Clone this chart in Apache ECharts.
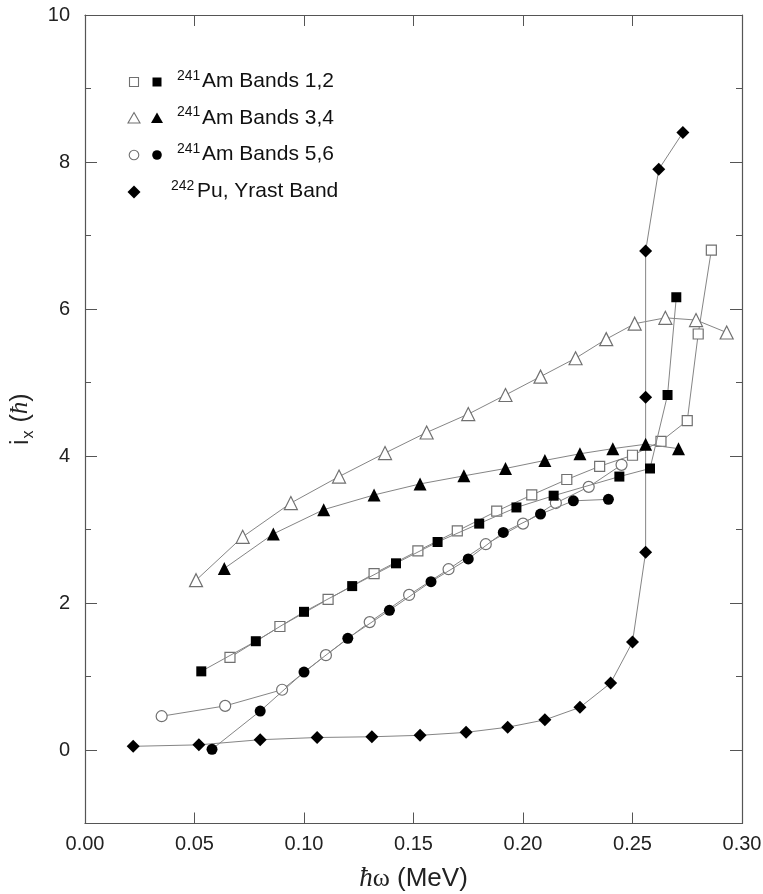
<!DOCTYPE html>
<html><head><meta charset="utf-8">
<script src="https://cdn.jsdelivr.net/npm/echarts@6/dist/echarts.min.js"></script>
<style>html,body{margin:0;padding:0;background:#fff}#c{width:763px;height:894px}</style>
</head><body><div id="c"></div>
<script>
// Data: [hbar*omega (MeV), i_x (hbar)]
const band1 = [[0.0662,1.26],[0.089,1.68],[0.111,2.05],[0.132,2.40],[0.152,2.71],[0.170,2.98],[0.188,3.25],[0.204,3.47],[0.220,3.68],[0.235,3.86],[0.250,4.01],[0.263,4.20],[0.275,4.48],[0.280,5.66],[0.286,6.80]];
const band2 = [[0.0531,1.07],[0.078,1.48],[0.100,1.88],[0.122,2.23],[0.142,2.54],[0.161,2.83],[0.180,3.08],[0.197,3.30],[0.214,3.46],[0.244,3.72],[0.258,3.83],[0.266,4.83],[0.270,6.16]];
const band3 = [[0.0507,2.31],[0.072,2.90],[0.094,3.36],[0.116,3.72],[0.137,4.04],[0.156,4.32],[0.175,4.57],[0.192,4.83],[0.208,5.08],[0.224,5.33],[0.238,5.59],[0.251,5.80],[0.265,5.88],[0.279,5.85],[0.293,5.68]];
const band4 = [[0.0636,2.47],[0.086,2.94],[0.109,3.27],[0.132,3.47],[0.153,3.62],[0.173,3.73],[0.192,3.83],[0.210,3.94],[0.226,4.03],[0.241,4.10],[0.256,4.16],[0.271,4.10]];
const band5 = [[0.035,0.46],[0.064,0.60],[0.090,0.82],[0.110,1.29],[0.130,1.74],[0.148,2.11],[0.166,2.46],[0.183,2.80],[0.200,3.08],[0.215,3.36],[0.230,3.58],[0.245,3.88]];
const band6 = [[0.058,0.01],[0.080,0.53],[0.100,1.06],[0.120,1.52],[0.139,1.90],[0.158,2.29],[0.175,2.60],[0.191,2.96],[0.208,3.21],[0.223,3.39],[0.239,3.41]];
const pu242 = [[0.022,0.05],[0.052,0.07],[0.080,0.14],[0.106,0.17],[0.131,0.18],[0.153,0.20],[0.174,0.24],[0.193,0.31],[0.210,0.41],[0.226,0.58],[0.240,0.91],[0.250,1.47],[0.256,2.69],[0.256,4.80],[0.256,6.79],[0.262,7.90],[0.273,8.40]];
const legendLabels = [["241","Am Bands 1,2"],["241","Am Bands 3,4"],["241","Am Bands 5,6"],["242","Pu, Yrast Band"]];
const yMajorTicks = [0,2,4,6,8,10];

const FONT = 'Liberation Sans, Arial, sans-serif';
const SERIF = 'Liberation Serif, DejaVu Serif, serif';
const LINE = '#858585';
const OPEN = '#707070';
const AXIS = '#555';

function ser(name, data, symbol, size, filled) {
  return {
    name, type: 'line', data, symbol, symbolSize: size, showSymbol: true,
    lineStyle: { color: LINE, width: 1 },
    itemStyle: filled ? { color: '#000', borderColor: '#000', borderWidth: 0 }
                      : { color: '#fff', borderColor: OPEN, borderWidth: 1.2 },
    z: filled ? 3 : 2, animation: false, clip: false
  };
}

const chart = echarts.init(document.getElementById('c'));
const lx1 = 134, lx2 = 157, ly = [82, 118.5, 155, 192];
const graphics = [];
graphics.push({type:'rect', shape:{x:lx1-4.5,y:ly[0]-4.5,width:9,height:9}, style:{fill:'#fff',stroke:OPEN,lineWidth:1.1}});
graphics.push({type:'rect', shape:{x:lx2-4.5,y:ly[0]-4.5,width:9,height:9}, style:{fill:'#000'}});
graphics.push({type:'polygon', shape:{points:[[lx1,ly[1]-6],[lx1+6,ly[1]+4.5],[lx1-6,ly[1]+4.5]]}, style:{fill:'#fff',stroke:OPEN,lineWidth:1.1}});
graphics.push({type:'polygon', shape:{points:[[lx2,ly[1]-6],[lx2+6,ly[1]+4.5],[lx2-6,ly[1]+4.5]]}, style:{fill:'#000'}});
graphics.push({type:'circle', shape:{cx:lx1,cy:ly[2],r:4.8}, style:{fill:'#fff',stroke:OPEN,lineWidth:1.1}});
graphics.push({type:'circle', shape:{cx:lx2,cy:ly[2],r:4.8}, style:{fill:'#000'}});
graphics.push({type:'polygon', shape:{points:[[lx1,ly[3]-6.5],[lx1+6.5,ly[3]],[lx1,ly[3]+6.5],[lx1-6.5,ly[3]]]}, style:{fill:'#000'}});
legendLabels.forEach((l, i) => {
  const supX = i < 3 ? 177 : 171;
  const mainX = i < 3 ? 202 : 197;
  graphics.push({type:'text', x: supX, y: ly[i]-13, style:{text:l[0], font:'14px '+FONT, fill:'#111', align:'left', verticalAlign:'top'}});
  graphics.push({type:'text', x: mainX, y: ly[i]-11, style:{text:l[1], font:'21px '+FONT, fill:'#111', align:'left', verticalAlign:'top'}});
});

const lineStyle = { show: true, onZero: false, lineStyle: { color: AXIS, width: 1.2 } };
const labelStyle = { fontSize: 20, fontFamily: FONT, color: '#222' };

chart.setOption({
  animation: false,
  backgroundColor: '#fff',
  grid: { left: 85, right: 21, top: 15, bottom: 70.5, containLabel: false, outerBoundsMode: 'none' },
  xAxis: [
    { type: 'value', min: 0, max: 0.3, interval: 0.05, position: 'bottom',
      axisLine: lineStyle, splitLine: { show: false },
      axisTick: { show: true, inside: true, length: 11, lineStyle: { color: AXIS, width: 1 } },
      axisLabel: Object.assign({ formatter: v => v.toFixed(2), margin: 11 }, labelStyle),
      name: '{h|ħ}{w|ω}{t| (MeV)}', nameLocation: 'middle', nameGap: 42,
      nameTextStyle: { rich: {
        h: { fontSize: 27, fontStyle: 'italic', fontFamily: SERIF, color: '#222' },
        w: { fontSize: 26, fontFamily: SERIF, color: '#222' },
        t: { fontSize: 26, fontFamily: FONT, color: '#222' } } }
    },
    { type: 'value', min: 0, max: 0.3, interval: 0.05, position: 'top',
      axisLine: lineStyle, splitLine: { show: false }, axisLabel: { show: false },
      axisTick: { show: true, inside: true, length: 11, lineStyle: { color: AXIS, width: 1 } } }
  ],
  yAxis: [
    { type: 'value', min: -1, max: 10, interval: 1, position: 'left',
      axisLine: lineStyle, splitLine: { show: false },
      axisTick: { show: true, inside: true, length: 6, lineStyle: { color: AXIS, width: 1 } },
      axisLabel: Object.assign({ formatter: v => (v >= 0 && v % 2 === 0) ? String(v) : '', margin: 15 }, labelStyle),
      name: '{a|i}{s|x}{a| (}{h|ħ}{a|)}', nameLocation: 'middle', nameGap: 44,
      nameTextStyle: { rich: {
        a: { fontSize: 25, fontFamily: FONT, color: '#222', lineHeight: 32, verticalAlign: 'middle' },
        s: { fontSize: 16, fontFamily: FONT, color: '#222', lineHeight: 32, verticalAlign: 'bottom', padding: [0,1,0,1] },
        h: { fontSize: 25, fontStyle: 'italic', fontFamily: SERIF, color: '#222', lineHeight: 32, verticalAlign: 'middle' } } }
    },
    { type: 'value', min: -1, max: 10, interval: 1, position: 'right',
      axisLine: lineStyle, splitLine: { show: false }, axisLabel: { show: false },
      axisTick: { show: true, inside: true, length: 6, lineStyle: { color: AXIS, width: 1 } } },
    { type: 'value', min: -1, max: 10, interval: 1, position: 'left',
      axisLine: { show: false, onZero: false }, splitLine: { show: false }, axisLabel: { show: false },
      axisTick: { show: true, inside: true, length: 12, customValues: yMajorTicks, lineStyle: { color: AXIS, width: 1 } } },
    { type: 'value', min: -1, max: 10, interval: 1, position: 'right',
      axisLine: { show: false, onZero: false }, splitLine: { show: false }, axisLabel: { show: false },
      axisTick: { show: true, inside: true, length: 12, customValues: yMajorTicks, lineStyle: { color: AXIS, width: 1 } } }
  ],
  graphic: graphics,
  series: [
    ser('Pu242', pu242, 'diamond', 13, true),
    ser('Band1', band1, 'rect', 10, false),
    ser('Band3', band3, 'triangle', 13, false),
    ser('Band5', band5, 'circle', 11, false),
    ser('Band2', band2, 'rect', 10, true),
    ser('Band4', band4, 'triangle', 13, true),
    ser('Band6', band6, 'circle', 11, true)
  ]
});
</script></body></html>
